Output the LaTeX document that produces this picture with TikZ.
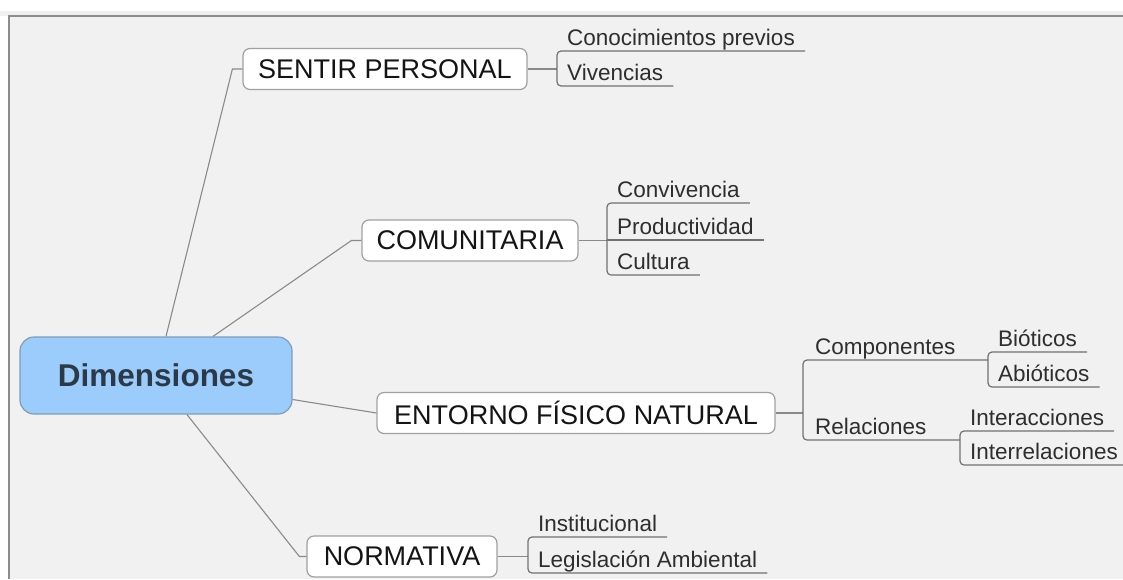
\documentclass[tikz,border=0pt]{standalone}
\usepackage{fontspec}
\setmainfont{Liberation Sans}
\definecolor{bg}{HTML}{F1F1F1}
\definecolor{framec}{HTML}{8C8C8C}
\definecolor{boxline}{HTML}{A0A0A0}
\definecolor{rootfill}{HTML}{9CCCFB}
\definecolor{rootline}{HTML}{7E9DB9}
\definecolor{roottext}{HTML}{2B3A48}
\definecolor{conn}{HTML}{8A8A8A}
\definecolor{uline}{HTML}{707070}
\definecolor{ltext}{HTML}{2E2E2E}
\begin{document}
\begin{tikzpicture}[x=1pt,y=-1pt,
  mainbox/.style={draw=boxline, line width=1.2pt, fill=white, rounded corners=7pt, minimum height=41pt, inner sep=0pt, font=\fontsize{27}{30}\selectfont, text=black!92},
  rootbox/.style={draw=rootline, line width=1.2pt, fill=rootfill, rounded corners=14pt, minimum width=272pt, minimum height=77pt, inner sep=0pt, font=\fontsize{31.5}{35}\selectfont\bfseries, text=roottext},
  leaf/.style={anchor=south west, inner xsep=10pt, inner ysep=0pt, text height=17pt, text depth=5.5pt, font=\fontsize{22.5}{26}\selectfont, text=ltext},
  link/.style={draw=conn, line width=1.1pt},
  brace/.style={draw=uline, line width=1.2pt, rounded corners=4pt},
  uln/.style={draw=uline, line width=1.2pt}
]
\useasboundingbox (0,0) rectangle (1123,579);
\fill[white] (0,0) rectangle (1123,579);
\fill[black!6] (0,11) rectangle (1123,16);
\fill[bg] (9,16) rectangle (1123,579);
\draw[framec, line width=1.5pt] (9,579) -- (9,16) -- (1123,16);

% main nodes
\node[rootbox] (root) at (156,375.5) {Dimensiones};
\node[mainbox, minimum width=284pt] (sp) at (385,69) {SENTIR PERSONAL};
\node[mainbox, minimum width=216pt] (com) at (470,240.5) {COMUNITARIA};
\node[mainbox, minimum width=398pt] (ent) at (576,413) {ENTORNO FÍSICO NATURAL};
\node[mainbox, minimum width=190pt] (norm) at (402,556.5) {NORMATIVA};

% leaves
\node[leaf] (cp) at (557,51) {Conocimientos previos};
\node[leaf] (viv) at (557,86) {Vivencias};
\node[leaf] (conv) at (607,203) {Convivencia};
\node[leaf] (prod) at (607,240) {Productividad};
\node[leaf] (cult) at (607,275) {Cultura};
\node[leaf, inner xsep=12pt] (comp) at (803,360) {Componentes};
\node[leaf, inner xsep=12pt] (rel) at (803,440) {Relaciones};
\node[leaf] (bio) at (988,352) {Bióticos};
\node[leaf] (abio) at (988,387) {Abióticos};
\node[leaf] (inter) at (960,431) {Interacciones};
\node[leaf] (interr) at (960,465) {Interrelaciones};
\node[leaf] (inst) at (528,537) {Institucional};
\node[leaf] (leg) at (528,573) {Legislación Ambiental};

% root connectors
\draw[link] ([xshift=10pt]root.north) -- ([xshift=-10pt]sp.west) -- (sp.west);
\draw[link] ([xshift=57pt]root.north) -- ([xshift=-10pt]com.west) -- (com.west);
\draw[link] ([yshift=-24pt]root.east) -- (ent.west);
\draw[link] ([xshift=31pt]root.south) -- ([xshift=-7pt]norm.west) -- (norm.west);

% SENTIR PERSONAL
\draw[link] (sp.east) -- (sp.east -| cp.south west);
\draw[brace] (cp.south east) -- (cp.south west) -- (viv.south west) -- (viv.south east);

% COMUNITARIA
\draw[link] (com.east) -- (com.east -| prod.south west);
\draw[brace] (conv.south east) -- (conv.south west) -- (cult.south west) -- (cult.south east);
\draw[uln] (prod.south west) -- (prod.south east);

% ENTORNO
\draw[link] (ent.east) -- (ent.east -| comp.south west);
\draw[brace] (comp.south west -| bio.south west) -- (comp.south west) -- (rel.south west) -- (rel.south west -| inter.south west);
\draw[brace] (bio.south east) -- (bio.south west) -- (abio.south west) -- (abio.south east);
\draw[brace] (inter.south east) -- (inter.south west) -- (interr.south west) -- (interr.south east);

% NORMATIVA
\draw[link] (norm.east) -- (norm.east -| inst.south west);
\draw[brace] (inst.south east) -- (inst.south west) -- (leg.south west) -- (leg.south east);
\end{tikzpicture}
\end{document}
